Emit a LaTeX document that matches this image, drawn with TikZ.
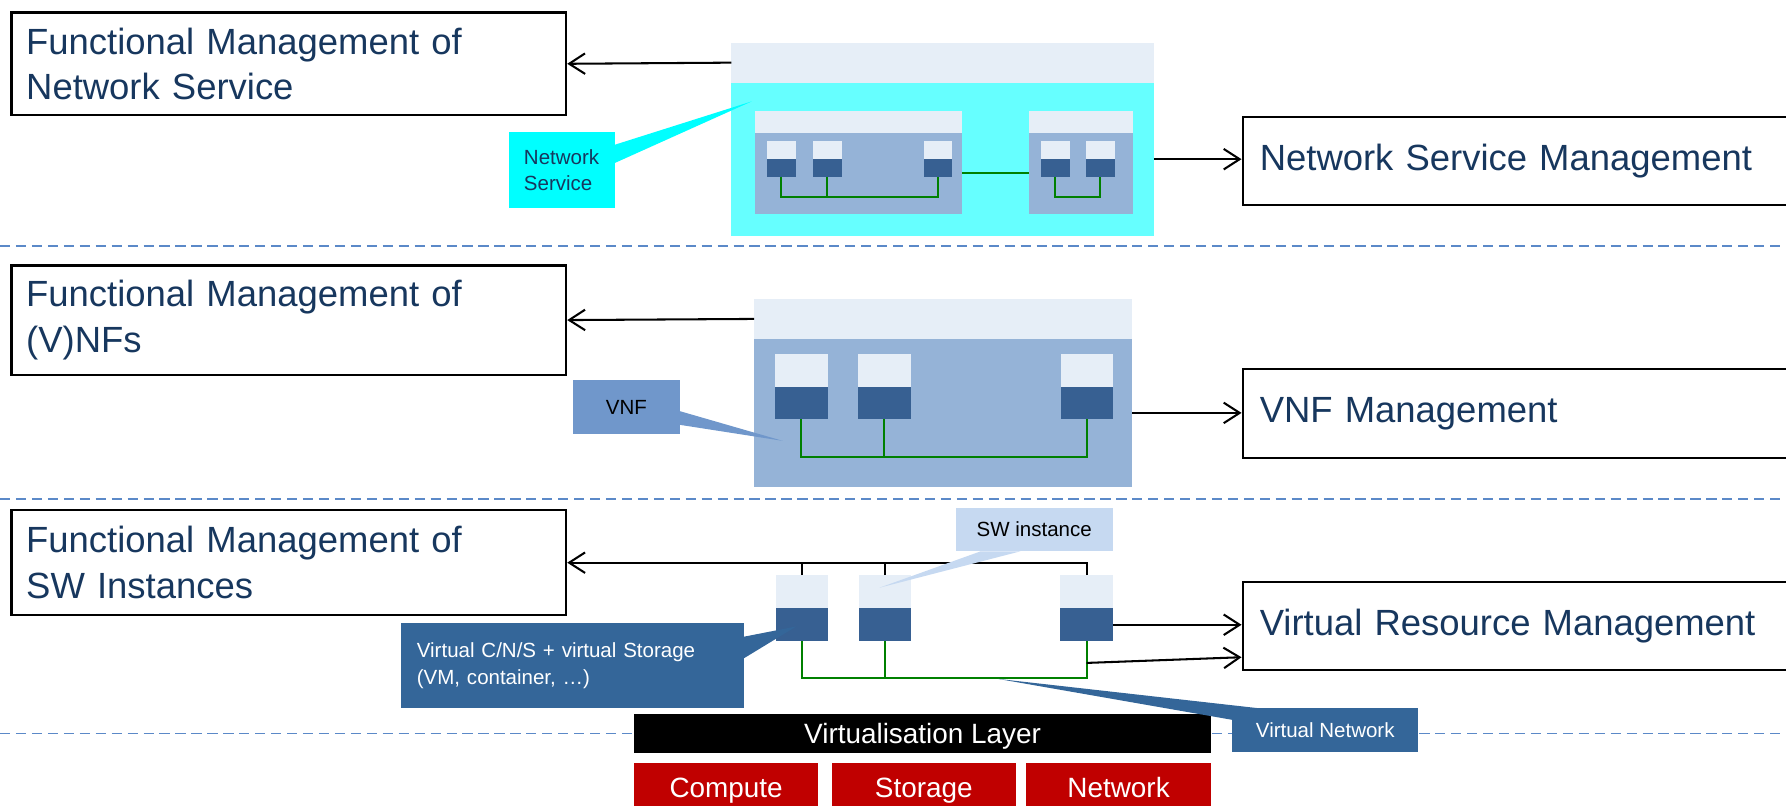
\documentclass[tikz,border=0pt]{standalone}
\usepackage{fontspec}
\setmainfont{Liberation Sans}
\usepackage[HTML]{xcolor}
\usepackage{tikz}
\usetikzlibrary{positioning, arrows.meta}

\definecolor{navy}{HTML}{17375E}
\definecolor{lite}{HTML}{E6EEF7}
\definecolor{cyanbody}{HTML}{66FFFF}
\definecolor{midblue}{HTML}{95B3D7}
\definecolor{darkblue}{HTML}{376092}
\definecolor{netgreen}{HTML}{008000}
\definecolor{callcyan}{HTML}{00FFFF}
\definecolor{vnfcol}{HTML}{7097CB}
\definecolor{swcol}{HTML}{C6D9F1}
\definecolor{vmcol}{HTML}{346699}
\definecolor{sepcol}{HTML}{5B89C8}
\definecolor{hwred}{HTML}{C00000}

\tikzset{
  mgmt/.style={draw, line width=2pt, anchor=north west, align=left, inner xsep=13pt, inner ysep=0pt,
    text width=461pt, text=navy, font=\fontsize{32}{40}\selectfont},
  rmgmt/.style={mgmt, inner xsep=15pt, text width=450pt},
  blk/.style={inner sep=0pt, outer sep=0pt, anchor=north west},
  lbl/.style={blk, font=\fontsize{18}{23}\selectfont},
  hw/.style={blk, text=white, text height=17.6pt, text depth=0pt, font=\fontsize{24.5}{30}\selectfont},
  arr/.style={line width=1.8pt, -{Straight Barb[length=14pt,width=18pt]}},
  wire/.style={line width=1.8pt},
  net/.style={netgreen, line width=1.8pt},
  sep/.style={sepcol, line width=1.5pt, dash pattern=on 9pt off 5pt}
}

\begin{document}
\begin{tikzpicture}[x=1pt,y=-1pt]
\useasboundingbox (0,0) rectangle (1568,707);

\draw[sep] (0,216) -- (1568,216);
\draw[sep] (0,438) -- (1568,438);
\draw[sep] (0,644) -- (1568,644);

\node[mgmt, minimum height=90pt] (fmns) at (9,10) {Functional Management of\\Network Service};
\node[mgmt, minimum height=96pt] (fmvnf) at (9,232) {Functional Management of\\(V)NFs};
\node[mgmt, minimum height=92pt] (fmsw) at (9,447) {Functional Management of\\SW Instances};
\node[rmgmt, minimum height=77pt] (nsm) at (1090,102) {Network Service Management};
\node[rmgmt, minimum height=78pt] (vnfm) at (1090,323) {VNF Management};
\node[rmgmt, minimum height=77pt] (vrm) at (1090,510) {Virtual Resource Management};

\node[blk, fill=lite, minimum width=371pt, minimum height=35pt] (nstop) at (642,37.5) {};
\node[blk, fill=cyanbody, minimum width=371pt, minimum height=134.5pt] (nsbody) at (nstop.south west) {};
\node[blk, fill=lite, minimum width=182pt, minimum height=19pt] (vnfa) at (663,97.5) {};
\node[blk, fill=midblue, minimum width=182pt, minimum height=71.5pt] (vnfabody) at (vnfa.south west) {};
\node[blk, fill=lite, minimum width=91pt, minimum height=19pt] (vnfb) at (903.5,97.5) {};
\node[blk, fill=midblue, minimum width=91pt, minimum height=71.5pt] (vnfbbody) at (vnfb.south west) {};
\foreach \n/\x in {1/673.4,2/713.8,3/811.2,4/914,5/953.5} {
  \node[blk, fill=lite, minimum width=25pt, minimum height=16pt] (a\n t) at (\x,124) {};
  \node[blk, fill=darkblue, minimum width=25pt, minimum height=15pt] (a\n) at (a\n t.south west) {};
}
\draw[net] (a1.south) -- ++(0,18) -| (a3.south);
\draw[net] (a2.south) -- ++(0,18);
\draw[net] (a4.south) -- ++(0,18) -| (a5.south);
\draw[net] (vnfabody.east) -- (vnfbbody.west);

\draw[arr] (nstop.west) -- (fmns.east);
\draw[arr] (nsbody.east) -- (nsbody.east -| nsm.west);

\node[lbl, fill=callcyan, minimum width=93pt, minimum height=67pt, align=left, text width=67pt,
  inner xsep=13pt, text=navy] (nscall) at (447,116) {Network\\Service};
\coordinate (nstip) at (660,89);
\fill[callcyan] ([yshift=-11pt]nscall.north east) -- (nstip) -- ([yshift=-27pt]nscall.north east) -- cycle;

\node[blk, fill=lite, minimum width=332pt, minimum height=35pt] (vnftop) at (662,262.5) {};
\node[blk, fill=midblue, minimum width=332pt, minimum height=130pt] (vnfbody) at (vnftop.south west) {};
\foreach \n/\x in {1/680.5,2/753.5,3/931.5} {
  \node[blk, fill=lite, minimum width=46pt, minimum height=29pt] (v\n t) at (\x,311) {};
  \node[blk, fill=darkblue, minimum width=46pt, minimum height=28pt] (v\n) at (v\n t.south west) {};
}
\draw[net] (v1.south) -- ++(0,33) -| (v3.south);
\draw[net] (v2.south) -- ++(0,33);

\draw[arr] (vnftop.west) -- (fmvnf.east);
\draw[arr] (vnfbody.east) -- (vnfbody.east -| vnfm.west);

\node[lbl, fill=vnfcol, minimum width=94pt, minimum height=47pt] (vnfcall) at (503,334) {VNF};
\coordinate (vnftip) at (687,387);
\fill[vnfcol] ([yshift=-27pt]vnfcall.north east) -- (vnftip) -- ([yshift=-39pt]vnfcall.north east) -- cycle;

\foreach \n/\x in {1/681,2/754,3/931} {
  \node[blk, fill=lite, minimum width=46pt, minimum height=29pt] (s\n t) at (\x,505) {};
  \node[blk, fill=darkblue, minimum width=46pt, minimum height=29pt] (s\n) at (s\n t.south west) {};
}
\draw[net] (s1.south) -- ++(0,32.5) -| (s3.south);
\draw[net] (s2.south) -- ++(0,32.5);

\draw[arr] (s3t.north) |- (fmsw.east);
\draw[wire] (s1t.north) -- (s1t.north |- fmsw.east);
\draw[wire] (s2t.north) -- (s2t.north |- fmsw.east);
\draw[arr] (s3.east) -- (s3.east -| vrm.west);
\coordinate (s3g) at (954,582);
\draw[arr] (s3g) -- ([yshift=-27.5pt]vrm.west);

\node[lbl, fill=swcol, minimum width=138pt, minimum height=38pt] (swcall) at (839,446) {SW instance};
\coordinate (swtip) at (772,516);
\fill[swcol] ([xshift=22pt]swcall.south west) -- (swtip) -- ([xshift=57pt]swcall.south west) -- cycle;

\node[lbl, fill=vmcol, minimum width=301pt, minimum height=75pt, align=left, text width=273pt,
  inner xsep=14pt, text=white] (vmcall) at (352,547) {Virtual C/N/S + virtual Storage\\(VM, container, \dots)};
\coordinate (vmtip) at (699,550);
\fill[vmcol] ([yshift=-12pt]vmcall.north east) -- (vmtip) -- ([yshift=-31pt]vmcall.north east) -- cycle;

\node[hw, fill=black, minimum width=506pt, minimum height=34pt] (vl) at (557,627) {Virtualisation Layer};
\node[hw, fill=hwred, minimum width=161pt, minimum height=42pt] (cmp) at (557,670) {Compute};
\node[hw, fill=hwred, minimum width=162pt, minimum height=42pt] (sto) at (730,670) {Storage};
\node[hw, fill=hwred, minimum width=162pt, minimum height=42pt] (ntw) at (901,670) {Network};

\node[lbl, fill=vmcol, minimum width=163pt, minimum height=38pt, text=white] (vncall) at (1082,622) {Virtual Network};
\coordinate (vntip) at (876,596);
\fill[vmcol] ([yshift=-10pt]vncall.north west) -- (vntip) -- ([xshift=25pt]vncall.north west) -- cycle;
\end{tikzpicture}
\end{document}
